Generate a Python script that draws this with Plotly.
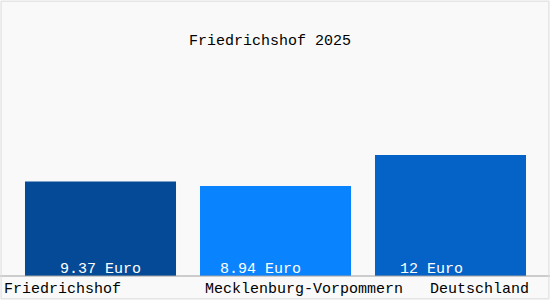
import plotly.graph_objects as go

categories = ["Friedrichshof", "Mecklenburg-Vorpommern", "Deutschland"]
values = [9.37, 8.94, 12]
value_labels = ["9.37 Euro", "8.94 Euro", "12 Euro"]
title_text = "Friedrichshof 2025"

colors = ["#054a96", "#0a83fe", "#0563c7"]
cat_shift = [-98.5, -72.5, -22.5]
val_shift = [-42.5, -57.5, -52.5]
FONT = "Liberation Mono, DejaVu Sans Mono, monospace"

xs = list(range(len(categories)))
fig = go.Figure(go.Bar(x=xs, y=values, width=0.863, marker=dict(color=colors, line=dict(width=0)),
                       hoverinfo="skip"))

ann = []
for i, c in enumerate(categories):
    ann.append(dict(x=i, y=0, xref="x", yref="y", text=c, showarrow=False, xanchor="left",
                    yanchor="middle", xshift=cat_shift[i], yshift=-13,
                    font=dict(family=FONT, size=15, color="#000000")))
    ann.append(dict(x=i, y=0, xref="x", yref="y", text=value_labels[i], showarrow=False, xanchor="left",
                    yanchor="middle", xshift=val_shift[i], yshift=7,
                    font=dict(family=FONT, size=15, color="#ffffff")))

fig.update_layout(
    width=550, height=300,
    margin=dict(l=0, r=0, t=0, b=0),
    paper_bgcolor="#f9f9f9", plot_bgcolor="#f9f9f9",
    showlegend=False,
    title=dict(text=title_text, x=0.491, xanchor="center", y=1 - 40 / 300, yanchor="middle",
               font=dict(family=FONT, size=15, color="#000000")),
    xaxis=dict(range=[-100.5 / 175, (550 - 100.5) / 175], showgrid=False, zeroline=False,
               showticklabels=False, fixedrange=True),
    yaxis=dict(range=[-24 / 10.08, 276 / 10.08], showgrid=False, zeroline=False,
               showticklabels=False, fixedrange=True),
    annotations=ann,
    shapes=[
        dict(type="line", xref="paper", yref="y", x0=0, x1=1, y0=0, y1=0,
             line=dict(color="#a0a0a0", width=1)),
        dict(type="rect", xref="paper", yref="paper", x0=0.002, x1=0.998, y0=0.004, y1=0.996,
             line=dict(color="#dddddd", width=1)),
    ],
)

fig.write_html("out.html", config={"displayModeBar": False})
